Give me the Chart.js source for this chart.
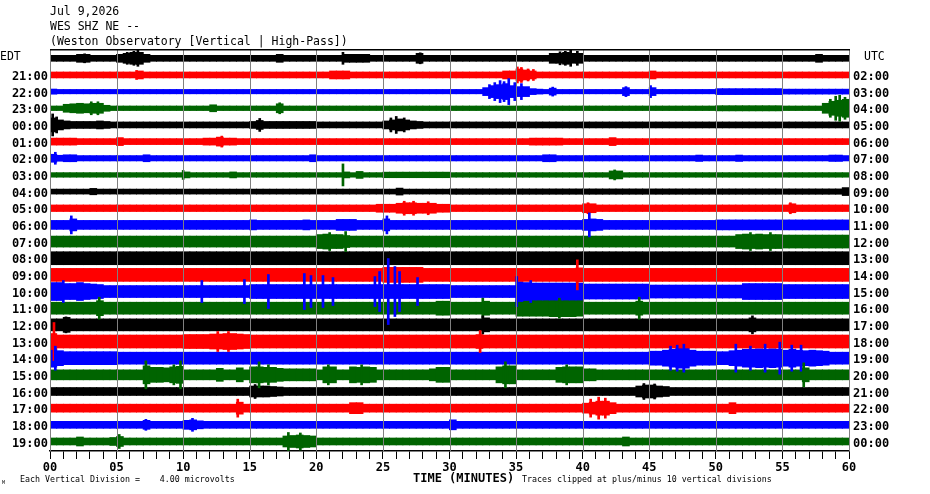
<!DOCTYPE html>
<html>
<head>
<meta charset="utf-8">
<script src="https://cdn.jsdelivr.net/npm/chart.js@4.4.1/dist/chart.umd.min.js"></script>
<style>
  html, body { margin: 0; padding: 0; background: #fff; }
  canvas { display: block; }
</style>
</head>
<body>
<canvas id="heli" width="930" height="494"></canvas>
<script>
// Helicorder WES SHZ NE - one trace per hour, 60 minutes across

const edtHours = ['20:00', '21:00', '22:00', '23:00', '00:00', '01:00', '02:00', '03:00',
  '04:00', '05:00', '06:00', '07:00', '08:00', '09:00', '10:00', '11:00',
  '12:00', '13:00', '14:00', '15:00', '16:00', '17:00', '18:00', '19:00'];
const utcHours = ['01:00', '02:00', '03:00', '04:00', '05:00', '06:00', '07:00', '08:00',
  '09:00', '10:00', '11:00', '12:00', '13:00', '14:00', '15:00', '16:00',
  '17:00', '18:00', '19:00', '20:00', '21:00', '22:00', '23:00', '00:00'];
const traceColors = ['#000000', '#ff0000', '#0000ff', '#006400'];
const minuteTicks = [0, 5, 10, 15, 20, 25, 30, 35, 40, 45, 50, 55, 60];

// half-height of each trace, one value per 30 s (120 per hour)
const traces = [
  // 20:00
  [3,3,3,3,4,4,3,3,3,3, 4,5,6,6,4,3,3,3,3,3, 3,3,3,3,3,3,3,3,3,3, 3,3,3,3,4,3,3,3,3,3, 3,3,3,3,4,4,4,4,3,3, 3,3,3,3,3,5,3,3,3,3,
   3,3,3,3,3,3,3,3,3,3, 3,3,3,3,3,5,5,6,5,5, 3,3,3,3,3,3,3,3,3,3, 3,3,3,3,3,3,3,3,3,3, 3,3,3,3,3,3,3,3,3,3, 3,3,3,3,3,4,3,3,3,3],
  // 21:00
  [3,3,3,3,3,3,3,3,3,3, 3,3,3,4,3,3,3,3,3,3, 3,3,3,3,3,3,3,3,3,3, 3,3,3,3,3,3,3,3,3,3, 3,3,4,4,4,3,3,3,3,3, 3,3,3,3,3,3,3,3,3,3,
   3,3,3,3,3,3,3,3,4,4, 6,5,4,3,3,3,3,3,3,3, 3,3,3,3,3,3,3,3,3,3, 4,3,3,3,3,3,3,3,3,3, 3,3,3,3,3,3,3,3,3,3, 3,3,3,3,3,3,3,3,3,3],
  // 22:00
  [2.6,2.2,2.2,2.2,2.2,2.2,2.2,2.2,2.2,2.2, 2.2,2.2,2.2,2.2,2.2,2.2,2.2,2.2,2.2,2.2, 2.2,2.2,2.2,2.2,2.2,2.2,2.2,2.2,2.2,2.2,
   2.2,2.2,2.2,2.2,2.2,2.2,2.2,2.2,2.2,2.2, 2.2,2.2,2.2,2.2,2.2,2.2,2.2,2.2,2.2,2.2, 2.2,2.2,2.2,2.2,2.2,2.2,2.2,2.2,2.2,2.2,
   2.2,2.2,2.2,2.2,2.2,4,6,7,8,6, 5,5,3,2.5,2.2,3.5,2.2,2.2,2.2,2.2, 2.2,2.2,2.2,2.2,2.2,2.2,4,2.2,2.2,2.2,
   4,2.2,2.2,2.2,2.2,2.2,2.2,2.2,2.2,2.2, 3,3,3,3,3,3,3,3,3,3, 2.5,2.5,2.5,2.5,2.5,2.5,2.5,2.5,2.5,2.5],
  // 23:00
  [2.3,2.3,4,4.5,5,4.5,5,5,3,2.3, 2.3,2.3,2.3,2.3,2.3,2.3,2.3,2.3,2.3,2.3, 2.3,2.3,2.3,2.3,3.5,2.3,2.3,2.3,2.3,2.3,
   2.3,2.3,2.3,2.3,4.5,2.3,2.3,2.3,2.3,2.3, 2.3,2.3,2.3,2.3,2.3,2.3,2.3,2.3,2.3,2.3, 2.3,2.3,2.3,2.3,2.3,2.3,2.3,2.3,2.3,2.3,
   2.3,2.3,2.3,2.3,2.3,2.3,2.3,2.3,2.3,2.3, 2.3,2.3,2.3,2.3,2.3,2.3,2.3,2.3,2.3,2.3, 2.3,2.3,2.3,2.3,2.3,2.3,2.3,2.3,2.3,2.3,
   2.3,2.3,2.3,2.3,2.3,2.3,2.3,2.3,2.3,2.3, 2.6,2.6,2.6,2.6,2.6,2.6,2.6,2.6,2.6,2.6, 2.3,2.3,2.3,2.3,2.3,2.3,5,7,8,9],
  // 00:00
  [7,5,4,3.5,3.5,3.5,3.5,4,3.5,3, 3,3,3,3,3,3,3,3,3,3, 3,3,3,3,3,3,3,3,3,3, 3.5,4.5,3.5,3.5,3.5,3.5,3.5,3.5,3.5,3.5, 3,3,3,3,3,3,3,3,3,3, 4,5,6,5,4,3.5,3,3,3,3,
   3,3,3,3,3,3,3,3,3,3, 3,3,3,3,3,3,3,3,3,3, 3,3,3,3,3,3,3,3,3,3, 3,3,3,3,3,3,3,3,3,3, 3,3,3,3,3,3,3,3,3,3, 3,3,3,3,3,3,3,3,3,3],
  // 01:00
  [3.5,3.5,3.5,3.5,3,3,3,3,3,3, 4,3,3,3,3,3,3,3,3,3, 3,3,3,3.5,3.5,4.5,3.5,3.5,3,3, 3,3,3,3,3,3,3,3,3,3, 3,3,3,3,3,3,3,3,3,3, 3,3,3,3,3,3,3,3,3,3,
   3,3,3,3,3,3,3,3,3,3, 3,3,3.5,3.5,3.5,3.5,3.5,3,3,3, 3,3,3,3,4,3,3,3,3,3, 3,3,3,3,3,3,3,3,3,3, 3,3,3,3,3,3,3,3,3,3, 3,3,3,3,3,3,3,3,3,3],
  // 02:00
  [4,3,3.5,3.5,2.7,2.7,2.7,2.7,2.7,2.7, 2.7,2.7,2.7,2.7,3.5,2.7,2.7,2.7,2.7,2.7, 2.7,2.7,2.7,2.7,2.7,2.7,2.7,2.7,2.7,2.7,
   2.7,2.7,2.7,2.7,2.7,2.7,2.7,2.7,2.7,3.5, 2.7,2.7,2.7,2.7,2.7,2.7,2.7,2.7,2.7,2.7, 2.7,2.7,2.7,2.7,2.7,2.7,2.7,2.7,2.7,2.7,
   2.7,2.7,2.7,2.7,2.7,2.7,2.7,2.7,2.7,2.7, 2.7,2.7,2.7,2.7,3.5,3.5,2.7,2.7,2.7,2.7, 2.7,2.7,2.7,2.7,2.7,2.7,2.7,2.7,2.7,2.7,
   2.7,2.7,2.7,2.7,2.7,2.7,2.7,3.2,2.7,2.7, 2.7,2.7,2.7,3.2,2.7,2.7,2.7,2.7,2.7,2.7, 2.7,2.7,2.7,2.7,2.7,2.7,2.7,3.2,3.2,2.7],
  // 03:00
  [2.3,2.3,2.3,2.3,2.3,2.3,2.3,2.3,2.3,2.3, 2.3,2.3,2.3,2.3,2.3,2.3,2.3,2.3,2.3,2.3, 3,2.3,2.3,2.3,2.3,2.3,2.3,3,2.3,2.3,
   2.3,2.3,2.3,2.3,2.3,2.3,2.3,2.3,2.3,2.3, 2.3,2.3,2.3,2.3,3,2.3,3.5,2.3,2.3,2.3, 2.8,2.8,2.8,2.8,2.8,2.8,2.8,2.8,2.8,2.8,
   2.3,2.3,2.3,2.3,2.3,2.3,2.3,2.3,2.3,2.3, 2.3,2.3,2.3,2.3,2.3,2.3,2.3,2.3,2.3,2.3, 2.3,2.3,2.3,2.3,4,4,2.3,2.3,2.3,2.3,
   2.3,2.3,2.3,2.3,2.3,2.3,2.3,2.3,2.3,2.3, 2.3,2.3,2.3,2.3,2.3,2.3,2.3,2.3,2.3,2.3, 2.3,2.3,2.3,2.3,2.3,2.3,2.3,2.3,2.3,2.3],
  // 04:00
  [2.5,2.5,2.5,2.5,2.5,2.5,3.2,2.5,2.5,2.5, 2.5,2.5,2.5,2.5,2.5,2.5,2.5,2.5,2.5,2.5, 2.5,2.5,2.5,2.5,2.5,2.5,2.5,2.5,2.5,2.5,
   2.5,2.5,2.5,2.5,2.5,2.5,2.5,2.5,2.5,2.5, 2.5,2.5,2.5,2.5,2.5,2.5,2.5,2.5,2.5,2.5, 2.5,2.5,3.5,2.5,2.5,2.5,2.5,2.5,2.5,2.5,
   2.7,2.7,2.7,2.7,2.7,2.7,2.7,2.7,2.7,2.7, 2.7,2.7,2.7,2.7,2.7,2.7,2.7,2.7,2.7,2.7, 2.7,2.7,2.7,2.7,2.7,2.7,2.7,2.7,2.7,2.7,
   2.7,2.7,2.7,2.7,2.7,2.7,2.7,2.7,2.7,2.7, 2.7,2.7,2.7,2.7,2.7,2.7,2.7,2.7,2.7,2.7, 2.7,2.7,2.7,2.7,2.7,2.7,2.7,2.7,2.7,4],
  // 05:00
  [3.3,3.3,3.3,3.3,3.3,3.3,3.3,3.3,3.3,3.3, 3.3,3.3,3.3,3.3,3.3,3.3,3.3,3.3,3.3,3.3, 3.3,3.3,3.3,3.3,3.3,3.3,3.3,3.3,3.3,3.3,
   3.3,3.3,3.3,3.3,3.3,3.3,3.3,3.3,3.3,3.3, 3.3,3.3,3.3,3.3,3.3,3.3,3.3,3.3,3.3,4, 4,4,5,5.5,5.5,5,5,5,4,4,
   3.3,3.3,3.3,3.3,3.3,3.3,3.3,3.3,3.3,3.3, 3.3,3.3,3.3,3.3,3.3,3.3,3.3,3.3,3.3,3.3, 4.5,4.5,3.3,3.3,3.3,3.3,3.3,3.3,3.3,3.3,
   3.3,3.3,3.3,3.3,3.3,3.3,3.3,3.3,3.3,3.3, 3.3,3.3,3.3,3.3,3.3,3.3,3.3,3.3,3.3,3.3, 3.3,4.5,3.3,3.3,3.3,3.3,3.3,3.3,3.3,3.3],
  // 06:00
  [4.5,4.5,4.5,6,4.5,4.5,4.5,4.5,4.5,4.5, 4.5,4.5,4.5,4.5,4.5,4.5,4.5,4.5,4.5,4.5, 4.5,4.5,4.5,4.5,4.5,4.5,4.5,4.5,4.5,4.5,
   5,4.5,4.5,4.5,4.5,4.5,4.5,4.5,5,4.5, 4.5,4.5,4.5,5.5,5.5,5.5,4.5,4.5,4.5,4.5, 6,4.5,4.5,4.5,4.5,4.5,4.5,4.5,4.5,4.5,
   4.5,4.5,4.5,4.5,4.5,4.5,4.5,4.5,4.5,4.5, 4.5,4.5,4.5,4.5,4.5,4.5,4.5,4.5,4.5,4.5, 5.5,6,5.5,4.5,4.5,4.5,4.5,4.5,4.5,4.5,
   4.5,4.5,4.5,4.5,4.5,4.5,4.5,4.5,4.5,4.5, 5,5,5,5,5,5,5,5,5,5, 5,5,5,5,5,5,5,5,5,5],
  // 07:00
  [5.5,5.5,5.5,5.5,5.5,5.5,5.5,5.5,5.5,5.5, 5.5,5.5,5.5,5.5,5.5,5.5,5.5,5.5,5.5,5.5, 5.5,5.5,5.5,5.5,5.5,5.5,5.5,5.5,5.5,5.5,
   5.5,5.5,5.5,5.5,5.5,5.5,5.5,5.5,5.5,5.5, 7,7.5,7,7,6,5.5,5.5,5.5,5.5,5.5, 5.5,5.5,5.5,5.5,5.5,5.5,5.5,5.5,5.5,5.5,
   5.5,5.5,5.5,5.5,5.5,5.5,5.5,5.5,5.5,5.5, 5.5,5.5,5.5,5.5,5.5,5.5,5.5,5.5,5.5,5.5, 5.5,5.5,5.5,5.5,5.5,5.5,5.5,5.5,5.5,5.5,
   5.5,5.5,5.5,5.5,5.5,5.5,5.5,5.5,5.5,5.5, 5.5,5.5,5.5,7,7.5,7,7.5,7,7,7, 6.5,6.5,6.5,6.5,6.5,6.5,6.5,6.5,6.5,6.5],
  // 08:00
  [6.5,6.5,6.5,6.5,6.5,6.5,6.5,6.5,6.5,6.5, 6.5,6.5,6.5,6.5,6.5,6.5,6.5,6.5,6.5,6.5, 6.5,6.5,6.5,6.5,6.5,6.5,6.5,6.5,6.5,6.5,
   6.5,6.5,6.5,6.5,6.5,6.5,6.5,6.5,6.5,6.5, 6.5,6.5,6.5,6.5,6.5,6.5,6.5,6.5,6.5,6.5, 6.5,6.5,6.5,6.5,6.5,6.5,6.5,6.5,6.5,6.5,
   6.5,6.5,6.5,6.5,6.5,6.5,6.5,6.5,6.5,6.5, 6.5,6.5,6.5,6.5,6.5,6.5,6.5,6.5,6.5,6.5, 6.5,6.5,6.5,6.5,6.5,6.5,6.5,6.5,6.5,6.5,
   6.5,6.5,6.5,6.5,6.5,6.5,6.5,6.5,6.5,6.5, 6.5,6.5,6.5,6.5,6.5,6.5,6.5,6.5,6.5,6.5, 6.5,6.5,6.5,6.5,6.5,6.5,6.5,6.5,6.5,6.5],
  // 09:00
  [6.5,6.5,6.5,6.5,6.5,6.5,6.5,6.5,6.5,6.5, 6.5,6.5,6.5,6.5,6.5,6.5,6.5,6.5,6.5,6.5, 6.5,6.5,6.5,6.5,6.5,6.5,6.5,6.5,6.5,6.5,
   6.5,6.5,6.5,6.5,6.5,6.5,6.5,6.5,6.5,6.5, 6.5,6.5,6.5,6.5,6.5,6.5,6.5,6.5,6.5,6.5, 7.5,7.5,7.5,7.5,7.5,7.5,6.5,6.5,6.5,6.5,
   6.5,6.5,6.5,6.5,6.5,6.5,6.5,6.5,6.5,6.5, 6.5,6.5,6.5,6.5,6.5,6.5,6.5,6.5,6.5,7, 6.5,6.5,6.5,6.5,6.5,6.5,6.5,6.5,6.5,6.5,
   6.5,6.5,6.5,6.5,6.5,6.5,6.5,6.5,6.5,6.5, 6.5,6.5,6.5,6.5,6.5,6.5,6.5,6.5,6.5,6.5, 6.5,6.5,6.5,6.5,6.5,6.5,6.5,6.5,6.5,6.5],
  // 10:00
  [9,9,8,8,9,8,7.5,7,6,6, 6,6,6,6,6,6,6,6,6,6, 6,6,6,6,6,6,6,6,6,6, 7,7,7,7,7,7,7,7,7,7, 7,7,7,7,7,7,7,7,7,7, 7,7,7,7,7,7,7,7,7,7,
   6,6,6,6,6,6,6,6,6,6, 10,9,8.5,8.5,8.5,8.5,8.5,8.5,8.5,8.5, 7.5,7.5,7.5,7.5,7.5,7.5,7.5,7.5,7.5,7.5,
   6.5,6.5,6.5,6.5,6.5,6.5,6.5,6.5,6.5,6.5, 6.5,6.5,6.5,6.5,8,8,8,8,8,8, 7,7,7,7,7,7,7,7,7,7],
  // 11:00
  [6,6,6,6,6,6,6,7.5,6,6, 6,6,6,6,6,6,6,6,6,6, 6,6,6,6,6,6,6,6,6,6, 6,6,6,6,6,6,6,6,6,6, 6,6,6,6,6,6,6,6,6,6, 6,6,6,6,6,6,6,6,7,7,
   6,6,6,6,6,7,6,6,6,6, 8,8,8,8,8,8.5,8.5,8.5,8.5,8, 6,6,6,6,6,6,6,6,7,6, 6,6,6,6,6,6,6,6,6,6, 6,6,6,6,6,6,6,6,6,6, 6,6,6,6,6,6,6,6,6,6],
  // 12:00
  [6,6,7.5,6,6,6,6,6,6,6, 6,6,6,6,6,6,6,6,6,6, 6,6,6,6,6,6,6,6,6,6, 6,6,6,6,6,6,6,6,6,6, 6,6,6,6,6,6,6,6,6,6, 6,6,6,6,6,6,6,6,6,6,
   6,6,6,6,6,7,6,6,6,6, 6,6,6,6,6,6,6,6,6,6, 6,6,6,6,6,6,6,6,6,6, 6,6,6,6,6,6,6,6,6,6, 6,6,6,6,6,7,6,6,6,6, 6,6,6,6,6,6,6,6,6,6],
  // 13:00
  [8,6.5,6.5,6.5,6.5,6.5,6.5,6.5,6.5,6.5, 6.5,6.5,6.5,6.5,6.5,6.5,6.5,6.5,6.5,6.5, 7,7,7,7,7.5,7.5,8,8,7.5,7,
   6.5,6.5,6.5,6.5,6.5,6.5,6.5,6.5,6.5,6.5, 6.5,6.5,6.5,6.5,6.5,6.5,6.5,6.5,6.5,6.5, 6.5,6.5,6.5,6.5,6.5,6.5,6.5,6.5,6.5,6.5,
   6.5,6.5,6.5,6.5,7,6.5,6.5,6.5,6.5,6.5, 6.5,6.5,6.5,6.5,6.5,6.5,6.5,6.5,6.5,6.5, 6.5,6.5,6.5,6.5,6.5,6.5,6.5,6.5,6.5,6.5,
   6.5,6.5,6.5,6.5,6.5,6.5,6.5,6.5,6.5,6.5, 6.5,6.5,6.5,6.5,6.5,6.5,6.5,6.5,6.5,6.5, 6.5,6.5,6.5,6.5,6.5,6.5,6.5,6.5,6.5,6.5],
  // 14:00
  [9,7.5,6.5,6.5,6.5,6.5,6.5,6.5,6.5,6.5, 6,6,6,6,6,6,6,6,6,6, 6,6,6,6,6,6,6,6,6,6, 6,6,6,6,6,6,6,6,6,6, 6,6,6,6,6,6,6,6,6,6, 6,6,6,6,6,6,6,6,6,6,
   6,6,6,6,6,6,6,6,6,6, 6,6,6,6,6,6,6,6,6,6, 6,6,6,6,6,6,6,6,6,6, 7,7,8,9,10,10,8,7,7,7, 6.5,6.5,7.5,8,9,9,9.5,9,9.5,9, 8,9,8,7.5,8,7.5,7,6,6,6],
  // 15:00
  [5,5,5,5,5,5,5,5,5,5, 5,5,5,5,9,7.5,7.5,7,8,8.5, 5,5,5,5,5,6.5,5,5,7,5, 8,8,7.5,7.5,6.5,6,6,6,6,6, 5,8,8,5,5,8,7.5,8,7.5,5, 5,5,5,5,5,5,5,6,7.5,7.5,
   5,5,5,5,5,5,5,8,9,9, 5,5,5,5,5,5,7.5,8,8,8, 6,6,5,5,5,5,5,5,5,5, 5,5,5,5,5,5,5,5,5,5, 5,5,5,5,5,5,5,5,5,5, 5,5,5,7,5,5,5,5,5,5],
  // 16:00
  [4,4,4,4,4,4,4,4,4,4, 4,4,4,4,4,4,4,4,4,4, 4,4,4,4,4,4,4,4,4,4, 5.5,5.5,5.5,5,4.5,4,4,4,4,4, 4,4,4,4,4,4,4,4,4,4, 4,4,4,4,4,4,4,4,4,4,
   4,4,4,4,4,4,4,4,4,4, 4,4,4,4,4,4,4,4,4,4, 4,4,4,4,4,4,4,4,5.5,6.5, 6.5,5.5,5,4,4,4,4,4,4,4, 4,4,4,4,4,4,4,4,4,4, 4,4,4,4,4,4,4,4,4,4],
  // 17:00
  [4,4,4,4,4,4,4,4,4,4, 4,4,4,4,4,4,4,4,4,4, 4,4,4,4,4,4,4,4,6,4, 4,4,4,4,4,4,4,4,4,4, 4,4,4,4,4,5.5,5.5,4,4,4, 4,4,4,4,4,4,4,4,4,4,
   4,4,4,4,4,4,4,4,4,4, 4,4,4,4,4,4,4,4,4,4, 5,6,7,7,5.5,4,4,4,4,4, 4,4,4,4,4,4,4,4,4,4, 4,4,5.5,4,4,4,4,4,4,4, 4,4,4,4,4,4,4,4,4,4],
  // 18:00
  [3.5,3.5,3.5,3.5,3.5,3.5,3.5,3.5,3.5,3.5, 3.5,3.5,3.5,3.5,4.5,3.5,3.5,3.5,3.5,3.5, 4.5,5,4,3.5,3.5,3.5,3.5,3.5,3.5,3.5,
   3.5,3.5,3.5,3.5,3.5,3.5,3.5,3.5,3.5,3.5, 3.5,3.5,3.5,3.5,3.5,3.5,3.5,3.5,3.5,3.5, 3.5,3.5,3.5,3.5,3.5,3.5,3.5,3.5,3.5,3.5,
   5,3.5,3.5,3.5,3.5,3.5,3.5,3.5,3.5,3.5, 3.5,3.5,3.5,3.5,3.5,3.5,3.5,3.5,3.5,3.5, 3.5,3.5,3.5,3.5,3.5,3.5,3.5,3.5,3.5,3.5,
   3.5,3.5,3.5,3.5,3.5,3.5,3.5,3.5,3.5,3.5, 3.5,3.5,3.5,3.5,3.5,3.5,3.5,3.5,3.5,3.5, 3.5,3.5,3.5,3.5,3.5,3.5,3.5,3.5,3.5,3.5],
  // 19:00
  [3.5,3.5,3.5,3.5,4.5,3.5,3.5,3.5,3.5,4,  5,3.5,3.5,3.5,3.5,3.5,3.5,3.5,3.5,3.5, 3.5,3.5,3.5,3.5,3.5,3.5,3.5,3.5,3.5,3.5,
   3.5,3.5,3.5,3.5,3.5,5.5,6,6.5,6,5.5, 3.5,3.5,3.5,3.5,3.5,3.5,3.5,3.5,3.5,3.5, 3.5,3.5,3.5,3.5,3.5,3.5,3.5,3.5,3.5,3.5,
   3.5,3.5,3.5,3.5,3.5,3.5,3.5,3.5,3.5,3.5, 3.5,3.5,3.5,3.5,3.5,3.5,3.5,3.5,3.5,3.5, 3.5,3.5,3.5,3.5,3.5,3.5,4.5,3.5,3.5,3.5,
   3.5,3.5,3.5,3.5,3.5,3.5,3.5,3.5,3.5,3.5, 3.5,3.5,3.5,3.5,3.5,3.5,3.5,3.5,3.5,3.5, 3.5,3.5,3.5,3.5,3.5,3.5,3.5,3.5,3.5,3.5]
];

// single tall wiggles: [row, minute, half-height]
const spikes = [
  [0, 2.6, 4.5], [0, 5.8, 6], [0, 6.3, 7], [0, 6.6, 8], [0, 22.0, 6], [0, 27.8, 5.5],
  [0, 38.3, 6.5], [0, 38.7, 7], [0, 39.1, 8], [0, 39.6, 7],
  [1, 6.5, 4.5], [1, 35.1, 8], [1, 35.4, 7.5], [1, 35.9, 6], [1, 36.3, 5.5],
  [2, 33.0, 7], [2, 33.4, 9], [2, 33.8, 11], [2, 34.1, 10], [2, 34.45, 13], [2, 34.9, 9], [2, 35.4, 8],
  [2, 37.75, 4.5], [2, 43.25, 5], [2, 45.1, 6],
  [3, 3.1, 6.5], [3, 3.6, 6.5], [3, 17.25, 5.5], [3, 58.6, 9], [3, 59.0, 12], [3, 59.3, 13], [3, 59.7, 11],
  [4, 0.2, 11], [4, 0.5, 8], [4, 15.75, 6.5], [4, 25.6, 7], [4, 26.0, 8.5], [4, 26.6, 7],
  [5, 12.9, 5.5],
  [6, 0.4, 6],
  [7, 10.0, 4.5], [7, 22.0, 11], [7, 42.4, 5],
  [9, 26.6, 7], [9, 27.3, 7], [9, 28.4, 6.5], [9, 40.4, 5.5], [9, 55.6, 5.5],
  [10, 1.6, 9], [10, 25.3, 9], [10, 40.5, 12],
  [11, 21.0, 9], [11, 22.2, 10], [11, 52.6, 9], [11, 54.1, 9],
  [13, 39.6, 15],
  [14, 1.0, 11], [14, 11.4, 11], [14, 14.6, 12], [14, 16.4, 17], [14, 19.1, 18], [14, 19.6, 16], [14, 20.5, 16],
  [14, 21.25, 14], [14, 24.4, 15], [14, 24.75, 20], [14, 25.4, 33], [14, 25.9, 25], [14, 26.25, 20],
  [14, 27.6, 14], [14, 35.05, 15], [14, 36.1, 11],
  [15, 3.7, 11], [15, 32.5, 10], [15, 38.25, 10], [15, 44.25, 11],
  [16, 1.2, 8], [16, 32.5, 9], [16, 52.75, 9],
  [17, 0.3, 19], [17, 12.6, 10], [17, 13.4, 10], [17, 32.3, 11],
  [18, 0.4, 12], [18, 46.6, 12], [18, 47.1, 13], [18, 47.6, 14], [18, 51.5, 14], [18, 52.6, 12],
  [18, 53.7, 14], [18, 54.8, 16], [18, 55.7, 13], [18, 56.4, 13],
  [19, 7.2, 14], [19, 9.3, 10], [19, 9.8, 14], [19, 15.7, 13], [19, 16.4, 10], [19, 20.9, 10], [19, 23.4, 10],
  [19, 34.2, 13], [19, 38.8, 10], [19, 56.6, 12],
  [20, 15.4, 7], [20, 44.6, 8], [20, 45.4, 7.5],
  [21, 14.1, 9], [21, 40.6, 9], [21, 41.2, 11], [21, 41.7, 10],
  [22, 7.2, 5.5], [22, 10.7, 6.5],
  [23, 5.2, 7], [23, 17.9, 9], [23, 18.8, 8.5]
];

const ROW_GAP = 16.66;
const BIN = 0.5;

const bandSets = traces.map((amps, r) => ({
  data: amps.map((a, k) => ({ x: k * BIN + BIN / 2, y: [r * ROW_GAP - a, r * ROW_GAP + a] })),
  backgroundColor: traceColors[r % 4],
  barThickness: 7,
  grouped: false,
  order: 1
}));

const spikeSet = {
  data: spikes.map(([r, m, a]) => ({ x: m, y: [r * ROW_GAP - a, r * ROW_GAP + a] })),
  backgroundColor: spikes.map(([r]) => traceColors[r % 4]),
  barThickness: 2,
  grouped: false,
  order: 0
};

const rowTicks = (scale) => {
  scale.ticks = edtHours.map((_, i) => ({ value: i * ROW_GAP }));
};

// 5-minute lines over the traces, header, captions and footer notes
const decor = {
  id: 'decor',
  afterDatasetsDraw(chart) {
    const { ctx, chartArea, scales } = chart;
    ctx.save();
    ctx.strokeStyle = '#808080';
    ctx.lineWidth = 1;
    minuteTicks.forEach((m) => {
      const px = Math.round(scales.x.getPixelForValue(m)) + 0.5;
      ctx.beginPath();
      ctx.moveTo(px, chartArea.top);
      ctx.lineTo(px, chartArea.bottom);
      ctx.stroke();
    });
    ctx.restore();
  },
  afterDraw(chart) {
    const { ctx, chartArea } = chart;
    ctx.save();
    ctx.fillStyle = '#000';
    ctx.fillRect(chartArea.left, chartArea.top - 1, chartArea.right - chartArea.left + 1, 1.5);
    ctx.textBaseline = 'middle';
    ctx.textAlign = 'left';
    ctx.font = '11.5px "DejaVu Sans Mono"';
    ctx.fillText('Jul 9,2026', 50, 12);
    ctx.fillText('WES SHZ NE --', 50, 27);
    ctx.fillText('(Weston Observatory [Vertical | High-Pass])', 50, 42);
    ctx.fillText('EDT', 0, 57);
    ctx.fillText('UTC', 864, 57);
    ctx.font = 'bold 12px "DejaVu Sans Mono"';
    ctx.fillText('TIME (MINUTES)', 413, 479);
    ctx.font = '8.3px "DejaVu Sans Mono"';
    ctx.fillText('Each Vertical Division =    4.00 microvolts', 20, 480);
    ctx.fillText('Traces clipped at plus/minus 10 vertical divisions', 522, 480);
    ctx.font = '5px "DejaVu Sans Mono"';
    ctx.fillText('M', 2, 483);
    ctx.restore();
  }
};

Chart.defaults.font.family = '"DejaVu Sans Mono", monospace';
Chart.defaults.color = '#000';

new Chart(document.getElementById('heli'), {
  type: 'bar',
  data: { datasets: [spikeSet, ...bandSets] },
  options: {
    responsive: false,
    animation: false,
    events: [],
    devicePixelRatio: 1,
    layout: { padding: { top: 50, left: 0, right: 0, bottom: 0 } },
    plugins: { legend: { display: false }, tooltip: { enabled: false } },
    scales: {
      x: {
        type: 'linear',
        position: 'bottom',
        min: 0,
        max: 60,
        offset: false,
        afterFit: (s) => { s.height = 43; },
        ticks: {
          stepSize: 1,
          autoSkip: false,
          maxRotation: 0,
          maxTicksLimit: 100,
          padding: 2,
          font: { size: 12, weight: 'bold' },
          callback: (v) => minuteTicks.includes(v) ? String(v).padStart(2, '0') : ''
        },
        grid: {
          offset: false,
          drawOnChartArea: false,
          drawTicks: true,
          tickLength: 8,
          tickColor: '#000',
          lineWidth: 1
        },
        border: { display: true, color: '#000', width: 1.5 }
      },
      y: {
        type: 'linear',
        position: 'left',
        reverse: true,
        min: -8.3,
        max: 392.7,
        afterBuildTicks: rowTicks,
        afterFit: (s) => { s.width = 50; },
        grid: { display: false, drawTicks: false },
        border: { display: false },
        ticks: {
          padding: 2,
          labelOffset: 2,
          font: { size: 12, weight: 'bold' },
          callback: (v, i) => i === 0 ? '' : edtHours[i]
        }
      },
      y2: {
        type: 'linear',
        position: 'right',
        reverse: true,
        min: -8.3,
        max: 392.7,
        afterBuildTicks: rowTicks,
        afterFit: (s) => { s.width = 81; },
        grid: { display: false, drawTicks: false },
        border: { display: false },
        ticks: {
          padding: 4,
          labelOffset: 2,
          font: { size: 12, weight: 'bold' },
          callback: (v, i) => i === 0 ? '' : utcHours[i]
        }
      }
    }
  },
  plugins: [decor]
});
</script>
</body>
</html>
